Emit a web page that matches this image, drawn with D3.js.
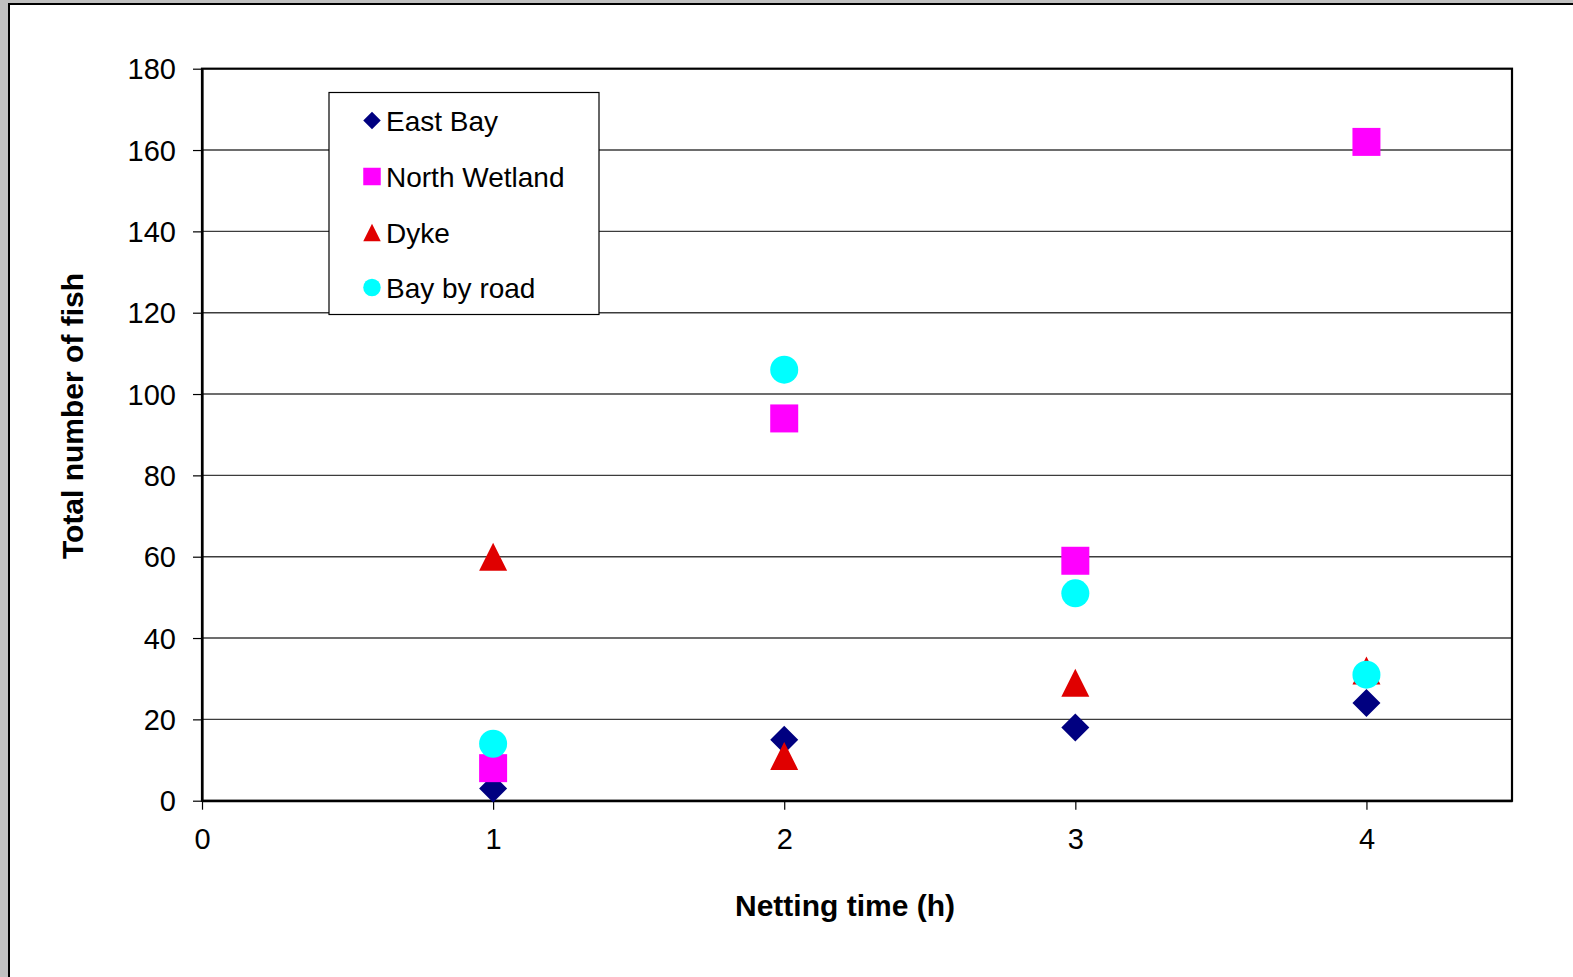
<!DOCTYPE html>
<html>
<head>
<meta charset="utf-8">
<script src="https://cdn.jsdelivr.net/npm/d3@7"></script>
<style>
  html, body { margin: 0; padding: 0; background: #fff; }
  svg { display: block; }
  text { font-family: "Liberation Sans", Arial, sans-serif; fill: #000; }
</style>
</head>
<body>
<svg id="chart" width="1573" height="977"></svg>
<script>
// Netting time (hours) at which fish were counted
const nettingTimes = [1, 2, 3, 4];

// Total fish counted per site
const eastBay      = [3, 15, 18, 24];
const northWetland = [8, 94, 59, 162];
const dyke         = [60, 11, 29, 32];
const bayByRoad    = [14, 106, 51, 31];

const seriesNames = ["East Bay", "North Wetland", "Dyke", "Bay by road"];
const xTicks = [0, 1, 2, 3, 4];
const yTicks = [0, 20, 40, 60, 80, 100, 120, 140, 160, 180];

// Marker shapes drawn inside a box of side sqrt(size), centred on the point
const boxDiamond = { draw(ctx, size) { const r = Math.sqrt(size) / 2;
  ctx.moveTo(0, -r); ctx.lineTo(r, 0); ctx.lineTo(0, r); ctx.lineTo(-r, 0); ctx.closePath(); } };
const boxSquare = { draw(ctx, size) { const r = Math.sqrt(size) / 2;
  ctx.rect(-r, -r, 2 * r, 2 * r); } };
const boxTriangle = { draw(ctx, size) { const r = Math.sqrt(size) / 2;
  ctx.moveTo(0, -r); ctx.lineTo(r, r); ctx.lineTo(-r, r); ctx.closePath(); } };
const boxCircle = { draw(ctx, size) { const r = Math.sqrt(size) / 2;
  ctx.moveTo(r, 0); ctx.arc(0, 0, r, 0, 2 * Math.PI); } };

const series = [
  { name: seriesNames[0], values: eastBay,      color: "#000080", symbol: boxDiamond },
  { name: seriesNames[1], values: northWetland, color: "#ff00ff", symbol: boxSquare },
  { name: seriesNames[2], values: dyke,         color: "#e00000", symbol: boxTriangle },
  { name: seriesNames[3], values: bayByRoad,    color: "#00ffff", symbol: boxCircle }
];

const svg = d3.select("#chart");
const W = 1573, H = 977;

// Window frame
svg.append("rect").attr("x", 0).attr("y", 0).attr("width", W).attr("height", H).attr("fill", "#c0c0c0");
svg.append("rect").attr("x", 8).attr("y", 3).attr("width", W - 8).attr("height", H - 3).attr("fill", "#000");
svg.append("rect").attr("x", 10).attr("y", 5).attr("width", W - 10).attr("height", H - 5).attr("fill", "#fff");

const plot = { left: 202, top: 68.7, right: 1512, bottom: 800.7 };

const x = d3.scaleLinear().domain([0, 4.5]).range([plot.left, plot.right]);
const y = d3.scaleLinear().domain([0, 180]).range([plot.bottom, plot.top]);

// Horizontal gridlines
svg.append("g")
  .selectAll("line")
  .data(yTicks.filter(t => t > 0 && t < 180))
  .join("line")
  .attr("x1", plot.left).attr("x2", plot.right)
  .attr("y1", d => y(d)).attr("y2", d => y(d))
  .attr("stroke", "#3c3c3c").attr("stroke-width", 1.4);

// Plot border
svg.append("rect")
  .attr("x", plot.left).attr("y", plot.top)
  .attr("width", plot.right - plot.left).attr("height", plot.bottom - plot.top)
  .attr("fill", "none").attr("stroke", "#000").attr("stroke-width", 2.2);

// Y axis
const yAxis = d3.axisLeft(y).tickValues(yTicks).tickSize(9).tickSizeOuter(0).tickPadding(17).tickFormat(d3.format("d"));
const gy = svg.append("g").attr("transform", `translate(${plot.left},0)`).call(yAxis);
gy.select(".domain").attr("stroke", "#000").attr("stroke-width", 2.2);
gy.selectAll(".tick line").attr("stroke", "#000").attr("stroke-width", 1.2);
gy.selectAll(".tick text").attr("font-size", 29).attr("font-family", "Liberation Sans, Arial, sans-serif").attr("dy", "0.35em");

// X axis
const xAxis = d3.axisBottom(x).tickValues(xTicks).tickSize(9).tickSizeOuter(0).tickPadding(19).tickFormat(d3.format("d"));
const gx = svg.append("g").attr("transform", `translate(0,${plot.bottom})`).call(xAxis);
gx.select(".domain").attr("stroke", "#000").attr("stroke-width", 2.2);
gx.selectAll(".tick line").attr("stroke", "#000").attr("stroke-width", 1.2);
gx.selectAll(".tick text").attr("font-size", 29).attr("font-family", "Liberation Sans, Arial, sans-serif").attr("dy", "0.71em");

// Axis titles
svg.append("text")
  .attr("x", 845).attr("y", 916)
  .attr("text-anchor", "middle")
  .attr("font-size", 30).attr("font-weight", "bold")
  .text("Netting time (h)");

svg.append("text")
  .attr("transform", "translate(83,416) rotate(-90)")
  .attr("text-anchor", "middle")
  .attr("font-size", 30).attr("font-weight", "bold")
  .text("Total number of fish");

// Markers (28 px box)
const markerSize = 28 * 28;
series.forEach(s => {
  const sym = d3.symbol().type(s.symbol).size(markerSize);
  svg.append("g")
    .selectAll("path")
    .data(nettingTimes.map((t, i) => ({ t, v: s.values[i] })))
    .join("path")
    .attr("transform", d => `translate(${x(d.t)},${y(d.v)})`)
    .attr("d", sym)
    .attr("fill", s.color);
});

// Legend
const legend = svg.append("g");
legend.append("rect")
  .attr("x", 329).attr("y", 92.5).attr("width", 270).attr("height", 222)
  .attr("fill", "#fff").attr("stroke", "#000").attr("stroke-width", 1.2);

const legendRows = [120.5, 176.5, 232.5, 287.5];
const legendSize = 17.5 * 17.5;
series.forEach((s, i) => {
  legend.append("path")
    .attr("transform", `translate(372,${legendRows[i]})`)
    .attr("d", d3.symbol().type(s.symbol).size(legendSize))
    .attr("fill", s.color);
  legend.append("text")
    .attr("x", 386).attr("y", legendRows[i])
    .attr("dy", "0.36em")
    .attr("font-size", 28)
    .text(s.name);
});
</script>
</body>
</html>
